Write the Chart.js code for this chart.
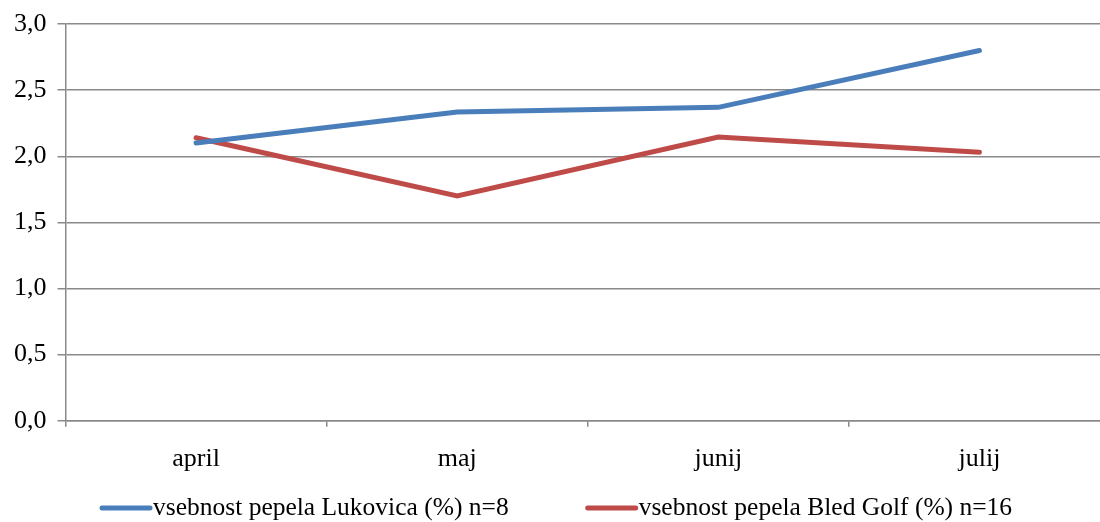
<!DOCTYPE html>
<html>
<head>
<meta charset="utf-8">
<script src="https://cdn.jsdelivr.net/npm/chart.js@4"></script>
<style>
  html, body { margin: 0; padding: 0; background: #fff; overflow: hidden; }
  /* plot area runs a little past the right edge of the window, as in the reference */
  #wrap { width: 1115px; height: 522px; }
</style>
</head>
<body>
<div id="wrap"><canvas id="chart"></canvas></div>
<script>
const months = ['april', 'maj', 'junij', 'julij'];
const lukovica = [2.10, 2.335, 2.37, 2.80];
const bledGolf = [2.14, 1.70, 2.145, 2.03];
const seriesNames = ['vsebnost pepela Lukovica (%) n=8', 'vsebnost pepela Bled Golf (%) n=16'];

const FONT = "'Liberation Serif', serif";
const GRID = '#8a8a8a';

// legend drawn by hand: short thick line directly against the text
const lineLegend = {
    id: 'lineLegend',
    afterDraw(chart) {
        const ctx = chart.ctx;
        const y = 508;
        let x = 98;
        ctx.save();
        ctx.font = '25.5px ' + FONT;
        ctx.textBaseline = 'middle';
        chart.data.datasets.forEach(ds => {
            ctx.strokeStyle = ds.borderColor;
            ctx.lineWidth = 5;
            ctx.lineCap = 'round';
            ctx.beginPath();
            ctx.moveTo(x + 4, y);
            ctx.lineTo(x + 52, y);
            ctx.stroke();
            ctx.fillStyle = '#000';
            ctx.fillText(ds.label, x + 55, y);
            x += 55 + ctx.measureText(ds.label).width + 75;
        });
        ctx.restore();
    }
};

new Chart(document.getElementById('chart'), {
    type: 'line',
    data: {
        labels: months,
        datasets: [{
            label: seriesNames[0],
            data: lukovica,
            borderColor: '#4A7EBB',
            borderWidth: 5,
            pointRadius: 0,
            tension: 0,
            borderCapStyle: 'round'
        }, {
            label: seriesNames[1],
            data: bledGolf,
            borderColor: '#BE4B48',
            borderWidth: 5,
            pointRadius: 0,
            tension: 0,
            borderCapStyle: 'round'
        }]
    },
    options: {
        responsive: true,
        maintainAspectRatio: false,
        animation: false,
        layout: { padding: { left: 3, top: 0, right: 5, bottom: 30 } },
        plugins: {
            legend: { display: false },
            tooltip: { enabled: false }
        },
        scales: {
            x: {
                offset: true,
                grid: { offset: true, drawOnChartArea: false, color: GRID, lineWidth: 1.5, tickLength: 6 },
                border: { color: GRID, width: 1.5 },
                ticks: { color: '#000', font: { family: FONT, size: 26 }, padding: 17 }
            },
            y: {
                min: 0,
                max: 3,
                grid: { color: GRID, lineWidth: 1.5, tickLength: 8 },
                border: { color: GRID, width: 1.5 },
                ticks: {
                    stepSize: 0.5,
                    color: '#000',
                    font: { family: FONT, size: 26, lineHeight: 1.0 },
                    padding: 11,
                    callback: v => v.toFixed(1).replace('.', ',')
                }
            }
        }
    },
    plugins: [lineLegend]
});
</script>
</body>
</html>
